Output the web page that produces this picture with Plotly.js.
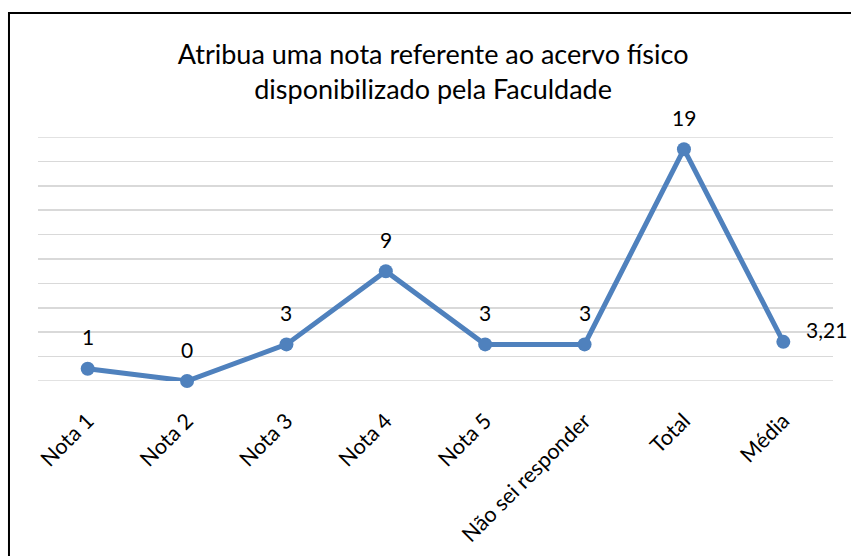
<!DOCTYPE html>
<html><head><meta charset="utf-8">
<script src="https://cdn.plot.ly/plotly-3.0.1.min.js"></script>
<style>html,body{margin:0;padding:0;background:#fff;}#chart{width:851px;height:556px;}</style>
</head><body><div id="chart"></div>
<script>
const categories = ["Nota 1","Nota 2","Nota 3","Nota 4","Nota 5","Não sei responder","Total","Média"];
const values = [1, 0, 3, 9, 3, 3, 19, 3.21];
const labels = ["1","0","3","9","3","3","19","3,21"];
const yTicks = [0,2,4,6,8,10,12,14,16,18,20];

const FONT = "Lato, Open Sans, sans-serif";
const trace = {
  x: categories, y: values, type: "scatter", mode: "lines+markers",
  line: {color: "#4F81BD", width: 5},
  marker: {color: "#4F81BD", size: 14},
  hoverinfo: "none", cliponaxis: false
};
const annotations = categories.map((c, i) => {
  const last = i === categories.length - 1;
  return {x: c, y: values[i], text: labels[i], showarrow: false,
    xref: "x", yref: "y", xshift: last ? 43 : 0, yshift: last ? 12 : 32,
    font: {family: FONT, size: 21, color: "#000"}};
});
const edgeLines = [yTicks[0], yTicks[yTicks.length - 1]].map(v => ({
  type: "line", xref: "paper", yref: "y", x0: 0, x1: 1, y0: v, y1: v,
  line: {color: "#D9D9D9", width: 1.5}, layer: "below"}));
const layout = {
  width: 851, height: 556,
  margin: {l: 38, r: 18, t: 137, b: 175},
  paper_bgcolor: "#fff", plot_bgcolor: "#fff",
  showlegend: false,
  title: {text: "Atribua uma nota referente ao acervo físico<br>disponibilizado pela Faculdade",
    font: {family: FONT, size: 27, color: "#000"}, x: 0.497, xref: "paper", xanchor: "center",
    y: 0.885, yref: "container", yanchor: "top"},
  xaxis: {type: "category", range: [-0.5, 7.5], tickangle: -45, showgrid: false, zeroline: false, showline: false,
    ticks: "", tickfont: {family: FONT, size: 21.5, color: "#000"}, ticklabelstandoff: 22, fixedrange: true},
  yaxis: {range: [0, 20], tickvals: yTicks, showticklabels: false, showgrid: true,
    gridcolor: "#D9D9D9", gridwidth: 1.5, zeroline: false, showline: false, ticks: "", fixedrange: true},
  annotations: annotations,
  shapes: edgeLines.concat([{type: "path", xref: "paper", yref: "paper",
    path: "M -0.0365,-0.9 L -0.0365,1.508 L 1.1,1.508",
    line: {color: "#000", width: 2}}])
};
Plotly.newPlot("chart", [trace], layout, {displayModeBar: false, staticPlot: true});
</script></body></html>
